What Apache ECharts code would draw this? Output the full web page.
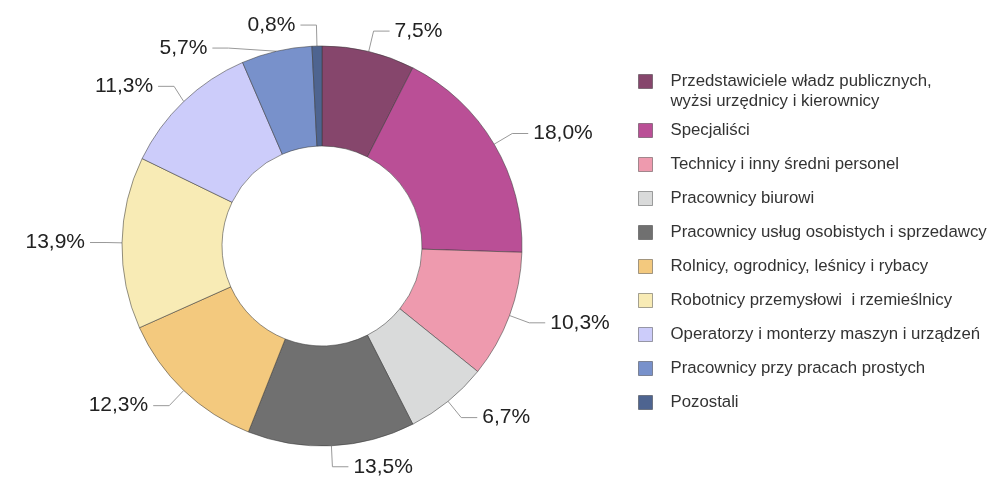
<!DOCTYPE html>
<html>
<head>
<meta charset="utf-8">
<script src="https://cdn.jsdelivr.net/npm/echarts@6/dist/echarts.min.js"></script>
<style>
  html, body { margin: 0; padding: 0; background: #fff; }
  #chart { width: 992px; height: 486px; }
</style>
</head>
<body>
<div id="chart"></div>
<script>
// kategorie zawodów i udział procentowy
var categories = [
  "Przedstawiciele władz publicznych, wyżsi urzędnicy i kierownicy",
  "Specjaliści",
  "Technicy i inny średni personel",
  "Pracownicy biurowi",
  "Pracownicy usług osobistych i sprzedawcy",
  "Rolnicy, ogrodnicy, leśnicy i rybacy",
  "Robotnicy przemysłowi  i rzemieślnicy",
  "Operatorzy i monterzy maszyn i urządzeń",
  "Pracownicy przy pracach prostych",
  "Pozostali"
];
var values = [7.5, 18.0, 10.3, 6.7, 13.5, 12.3, 13.9, 11.3, 5.7, 0.8];
var colors = ["#86466C", "#BA4F96", "#EE9AAE", "#D9DADA", "#707070",
              "#F3C97E", "#F8EBB5", "#CCCCFA", "#7891CB", "#4E6490"];

var chart = echarts.init(document.getElementById("chart"));

var seriesData = [];
for (var i = 0; i < categories.length; i++) {
  seriesData.push({
    name: categories[i],
    value: values[i],
    itemStyle: { color: colors[i] }
  });
}

var font = "Liberation Sans, Arial, sans-serif";
var legendFont = 16.8;

// wspólne ustawienia legendy
function legendBase() {
  return {
    orient: "vertical",
    left: 638,
    padding: 0,
    itemWidth: 14,
    itemHeight: 14,
    itemGap: 17,
    icon: "rect",
    itemStyle: { borderColor: "rgba(0,0,0,0.35)", borderWidth: 1 },
    textStyle: {
      fontFamily: font,
      fontSize: legendFont,
      color: "#333",
      lineHeight: 17,
      padding: [0, 0, 0, 13],
      rich: {
        a: { fontFamily: font, fontSize: legendFont, color: "#333", lineHeight: 2 },
        b: { fontFamily: font, fontSize: legendFont, color: "#333", lineHeight: 38 },
        c: { fontFamily: font, fontSize: legendFont, color: "#333", lineHeight: 2 }
      }
    }
  };
}

var legendTop = legendBase();
legendTop.top = 53;
legendTop.data = [categories[0]];
// pierwsza pozycja w dwóch wierszach, ikona przy pierwszym
legendTop.formatter = function () {
  return "{a| }\n{b|Przedstawiciele władz publicznych,}\n{c|wyżsi urzędnicy i kierownicy}";
};

var legendRest = legendBase();
legendRest.top = 122;
legendRest.data = categories.slice(1);

var option = {
  animation: false,
  legend: [legendTop, legendRest],
  series: [
    {
      type: "pie",
      center: [322, 246],
      radius: [100, 200],
      startAngle: 90,
      clockwise: true,
      itemStyle: { borderColor: "rgba(60,60,60,0.55)", borderWidth: 1 },
      label: {
        show: true,
        fontFamily: font,
        fontSize: 21,
        color: "#222",
        formatter: function (p) {
          return p.value.toFixed(1).replace(".", ",") + "%";
        }
      },
      labelLine: {
        show: true,
        length: 21,
        length2: 16,
        lineStyle: { color: "#999", width: 1 }
      },
      emphasis: { disabled: true },
      data: seriesData
    }
  ]
};

chart.setOption(option);
</script>
</body>
</html>
